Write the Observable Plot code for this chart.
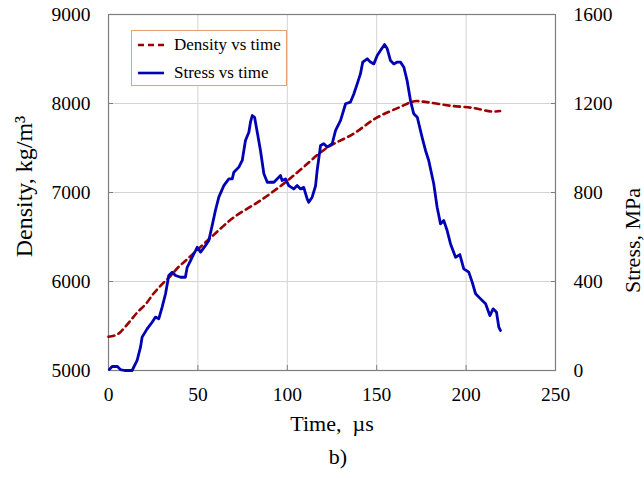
<!DOCTYPE html>
<html>
<head>
<meta charset="utf-8">
<script src="https://cdn.jsdelivr.net/npm/d3@7"></script>
<script src="https://cdn.jsdelivr.net/npm/@observablehq/plot@0.6"></script>
<style>
  html, body { margin: 0; padding: 0; background: #fff; }
  #wrap { position: relative; width: 644px; height: 478px; }
  svg text, #legend, #legend span { font-family: "Liberation Serif", "Times New Roman", serif !important; }
  #legend {
    position: absolute; left: 131px; top: 30px; width: 154px; height: 54px;
    border: 1px solid #e3a274; background: #fff;
    font-size: 17px; color: #000;
  }
  #legend .row { position: absolute; left: 0; height: 20px; display: flex; align-items: center; }
  #legend svg { margin-left: 6px; margin-right: 10px; }
</style>
</head>
<body>
<div id="wrap">
  <div id="chart"></div>
  <div id="legend"></div>
</div>
<script>
// ---- data ----
const densityTime  = [0, 3, 6, 11, 16, 21, 25, 30, 35, 39, 44, 57, 70, 85, 98, 107, 122, 137, 150, 163, 171, 178, 191, 204, 214, 219];
const densityValue = [5380, 5390, 5420, 5530, 5650, 5750, 5860, 5970, 6070, 6160, 6250, 6490, 6720, 6910, 7100, 7250, 7500, 7660, 7840, 7960, 8025, 8015, 7975, 7950, 7910, 7915];

const stressTime = [0.5, 2, 5, 6.7, 9, 13.2, 16, 17.9, 18.8, 21.6, 24.4, 26.3, 28.1, 30, 31.9, 33.7, 35.6, 37.5, 40.3, 43, 44, 45.9, 47.7, 48.7, 49.6, 51.5, 54.3, 56.1, 58, 59.8, 61.7, 64.5, 67.3, 69.2, 70.1, 72.9, 74.8, 76.6, 78.5, 79.4, 80.4, 81.7, 83.2, 85, 86.9, 88.8, 92.5, 94.3, 96.2, 97.1, 99, 100.8, 103.6, 105.5, 107.4, 109.2, 111.1, 112, 113.9, 115.8, 116.7, 118.6, 120.4, 122.3, 125.1, 127, 129.8, 132.6, 135.3, 137.2, 139.1, 140.9, 142.2, 144.7, 146.5, 148.4, 150.3, 152.1, 154.4, 155.9, 157.7, 159.6, 161.5, 163.3, 165.2, 167, 168.9, 170.7, 172.7, 175.4, 177.3, 179.1, 181.9, 183.8, 185.7, 187.5, 189.4, 191.3, 194.1, 196.5, 198.7, 201.5, 203.4, 205.3, 208.1, 210.9, 213.3, 215.1, 217, 218.3, 219.2];
const stressValue = [5, 18, 18, 4, 0, 0, 45, 105, 150, 187, 217, 240, 232, 285, 345, 427, 442, 427, 419, 419, 464, 494, 524, 539, 554, 532, 562, 584, 652, 719, 779, 831, 861, 861, 891, 914, 944, 1034, 1071, 1116, 1146, 1138, 1071, 989, 884, 846, 846, 861, 876, 854, 861, 831, 816, 831, 816, 823, 771, 756, 779, 830, 899, 1011, 1019, 1004, 1019, 1079, 1124, 1199, 1206, 1243, 1288, 1333, 1386, 1401, 1386, 1378, 1416, 1438, 1465, 1446, 1393, 1378, 1386, 1386, 1363, 1303, 1213, 1154, 1138, 1048, 989, 944, 839, 734, 659, 674, 629, 569, 509, 521, 457, 442, 397, 345, 322, 300, 247, 277, 262, 195, 180];

const xTicks = [0, 50, 100, 150, 200, 250];
const densityTicks = [5000, 6000, 7000, 8000, 9000];
const stressTicks = [0, 400, 800, 1200, 1600];

const seriesNames = ["Density vs time", "Stress vs time"];
const seriesColors = ["#990000", "#0000b4"];

const xLabel = "Time,  µs";
const yLabel = "Density, kg/m³";
const y2Label = "Stress, MPa";
const caption = "b)";

// ---- build ----
const density = densityTime.map((t, i) => ({t, v: densityValue[i]}));
const stress = stressTime.map((t, i) => ({t, v: stressValue[i]}));
// stress 0..1600 maps onto density 5000..9000
const s2d = s => 5000 + s * (9000 - 5000) / 1600;
const serif = "Liberation Serif";

const chart = Plot.plot({
  width: 644,
  height: 478,
  marginLeft: 108,
  marginRight: 89,
  marginTop: 14,
  marginBottom: 108,
  style: {fontFamily: serif, fontSize: "19px", background: "#fff", color: "#000"},
  x: {domain: [0, 250]},
  y: {domain: [5000, 9000]},
  marks: [
    Plot.gridX(xTicks.slice(1, -1), {stroke: "#d4d4d4", strokeOpacity: 1, strokeWidth: 1}),
    Plot.gridY(densityTicks.slice(1, -1), {stroke: "#d4d4d4", strokeOpacity: 1, strokeWidth: 1}),
    Plot.frame({stroke: "#7f7f7f", strokeWidth: 1.2}),
    // inward ticks
    Plot.axisX(xTicks, {tickSize: -5, text: null, stroke: "#7f7f7f", label: null}),
    Plot.axisY(densityTicks, {anchor: "left", tickSize: -5, text: null, stroke: "#7f7f7f", label: null}),
    Plot.axisY(densityTicks, {anchor: "right", tickSize: -5, text: null, stroke: "#7f7f7f", label: null}),
    // tick labels
    Plot.axisX(xTicks, {tickSize: 0, tickPadding: 17, fontSize: 19.5, fontFamily: serif, label: null, tickFormat: d => String(d)}),
    Plot.axisY(densityTicks, {anchor: "left", tickSize: 0, tickPadding: 18, fontSize: 19.5, fontFamily: serif, label: null, tickFormat: d => String(d)}),
    Plot.axisY(densityTicks, {anchor: "right", tickSize: 0, tickPadding: 18, fontSize: 19.5, fontFamily: serif, label: null,
      tickFormat: d => String(stressTicks[densityTicks.indexOf(d)])}),
    // series
    Plot.line(density, {x: "t", y: "v", stroke: seriesColors[0], strokeWidth: 2.6, strokeDasharray: "6,4.5", curve: "catmull-rom"}),
    Plot.line(stress, {x: "t", y: d => s2d(d.v), stroke: seriesColors[1], strokeWidth: 2.8, curve: "linear", strokeLinejoin: "round"}),
    // titles
    Plot.text([xLabel], {frameAnchor: "bottom", textAnchor: "middle", dy: 60, fontSize: 22, fontFamily: serif, text: d => d}),
    Plot.text([caption], {frameAnchor: "bottom", textAnchor: "middle", dx: 6, dy: 93, fontSize: 22, fontFamily: serif, text: d => d}),
    Plot.text([yLabel], {frameAnchor: "left", textAnchor: "middle", rotate: -90, dx: -84, dy: -6, fontSize: 24, fontFamily: serif, text: d => d}),
    Plot.text([y2Label], {frameAnchor: "right", textAnchor: "middle", rotate: -90, dx: 77, dy: 48, fontSize: 22, fontFamily: serif, text: d => d})
  ]
});
document.getElementById("chart").appendChild(chart);

// legend
const legend = d3.select("#legend");
seriesNames.forEach((name, i) => {
  const row = legend.append("div").attr("class", "row").style("top", (i === 0 ? 4 : 32) + "px");
  const sw = row.append("svg").attr("width", 26).attr("height", 10);
  sw.append("line").attr("x1", 0).attr("x2", 26).attr("y1", 5).attr("y2", 5)
    .attr("stroke", seriesColors[i]).attr("stroke-width", 2.6)
    .attr("stroke-dasharray", i === 0 ? "6,4" : null);
  row.append("span").text(name);
});
</script>
</body>
</html>
